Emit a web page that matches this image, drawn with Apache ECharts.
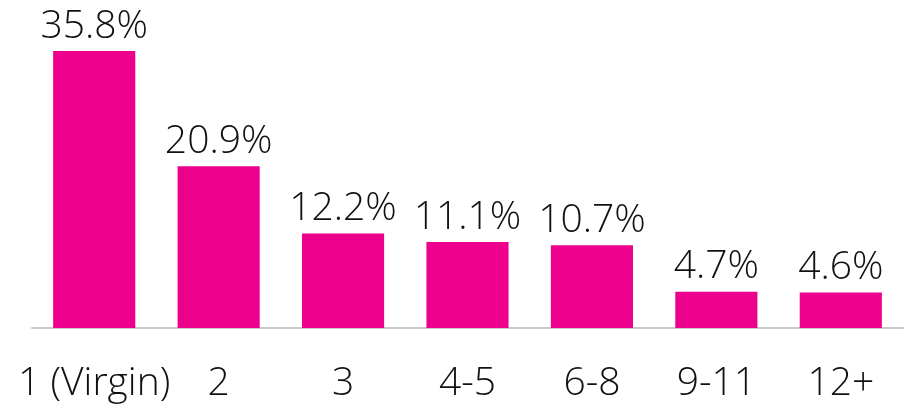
<!DOCTYPE html>
<html>
<head>
<meta charset="utf-8">
<script src="https://cdn.jsdelivr.net/npm/echarts@6/dist/echarts.min.js"></script>
<style>
  html, body { margin: 0; padding: 0; background: #fff; }
  #main { width: 905px; height: 409px; }
</style>
</head>
<body>
<div id="main"></div>
<script>
// categories and values
var categories = ['1 (Virgin)', '2', '3', '4-5', '6-8', '9-11', '12+'];
var shares = [35.8, 20.9, 12.2, 11.1, 10.7, 4.7, 4.6];

var myChart = echarts.init(document.getElementById('main'));
var option = {
    animation: false,
    grid: { left: 32, right: 2, top: 18.5, bottom: 81 },
    xAxis: {
        type: 'category',
        data: categories,
        axisLine: { lineStyle: { color: '#c8c8c8', width: 2 } },
        axisTick: { show: false },
        axisLabel: {
            interval: 0,
            margin: 36,
            fontFamily: 'Open Sans',
            fontWeight: 350,
            fontSize: 39,
            color: '#111'
        }
    },
    yAxis: {
        type: 'value',
        min: 0,
        max: 40,
        show: false,
        splitLine: { show: false }
    },
    series: [{
        type: 'bar',
        data: shares,
        barCategoryGap: '34%',
        itemStyle: { color: '#EC008C' },
        label: {
            show: true,
            position: 'top',
            distance: 5,
            fontFamily: 'Open Sans',
            fontWeight: 350,
            fontSize: 39,
            color: '#111',
            formatter: function (p) { return p.value.toFixed(1) + '%'; }
        }
    }]
};
myChart.setOption(option);
</script>
</body>
</html>
